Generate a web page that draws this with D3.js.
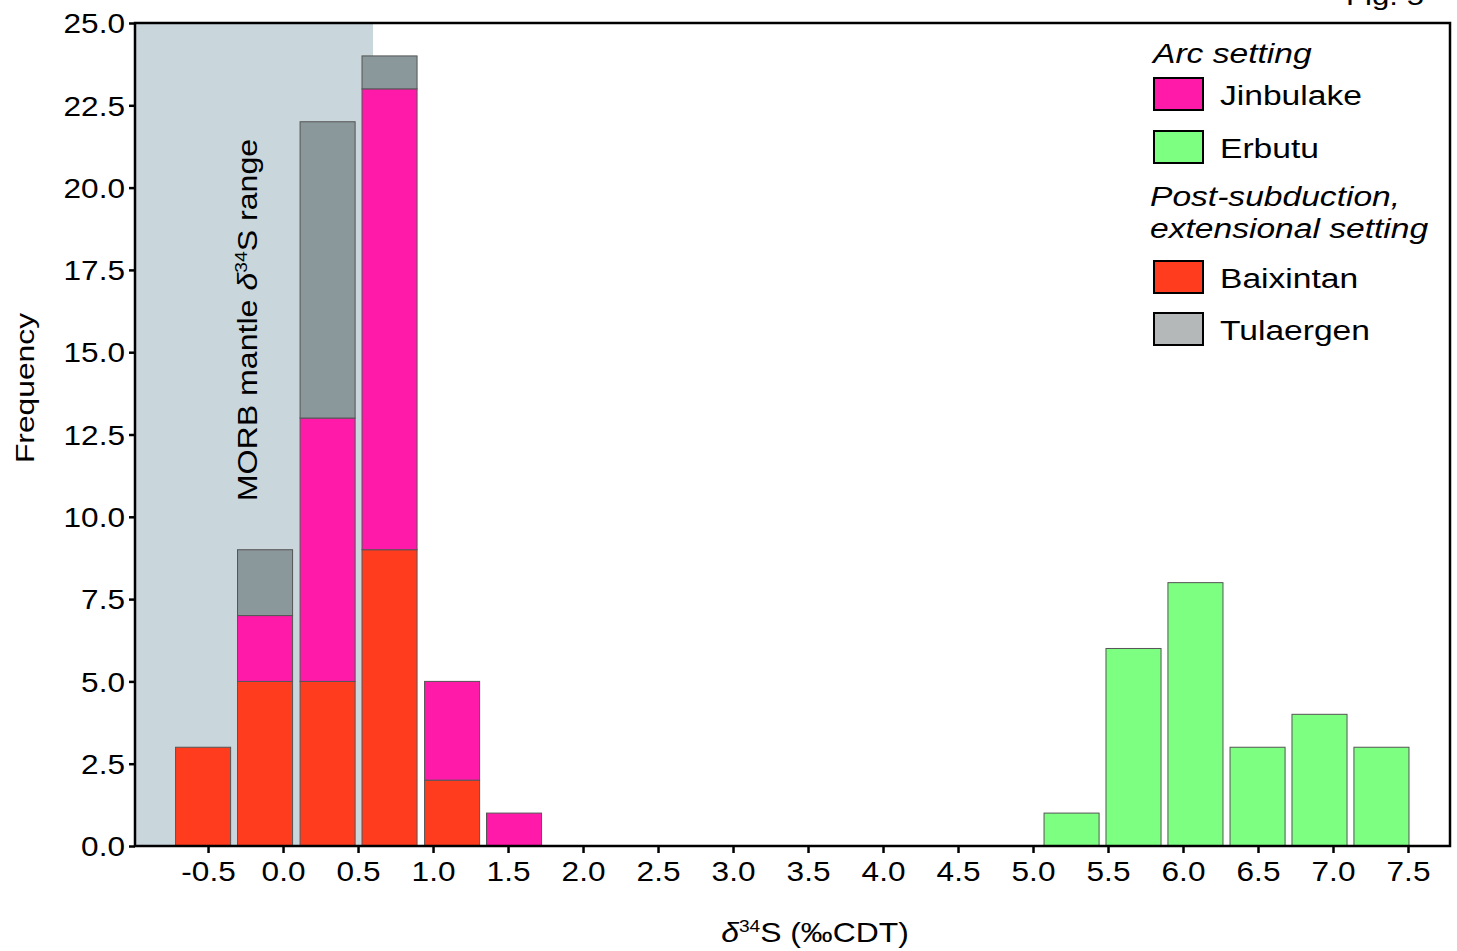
<!DOCTYPE html>
<html><head><meta charset="utf-8">
<script src="https://cdn.jsdelivr.net/npm/d3@7"></script>
<style>body{margin:0;background:#fff}svg{display:block}text{font-family:"Liberation Sans",Arial,sans-serif;fill:#000}</style>
</head><body>
<script>
// ---- data ----
const binCenters = [-0.533, -0.120, 0.297, 0.710, 1.127, 1.540, 5.257, 5.670, 6.083, 6.497, 6.910, 7.323];
const barWidth = 0.367;
const baixintan = [3, 5, 5, 9, 2, 0, 0, 0, 0, 0, 0, 0];
const jinbulake = [0, 2, 8, 14, 3, 1, 0, 0, 0, 0, 0, 0];
const tulaergen = [0, 2, 9, 1, 0, 0, 0, 0, 0, 0, 0, 0];
const erbutu    = [0, 0, 0, 0, 0, 0, 1, 6, 8, 3, 4, 3];
const xTicks = [-0.5,0,0.5,1,1.5,2,2.5,3,3.5,4,4.5,5,5.5,6,6.5,7,7.5];
const yTicks = [0,2.5,5,7.5,10,12.5,15,17.5,20,22.5,25];
const xDomain = [-0.987, 7.78];
const yDomain = [0, 25];
const morbRange = [-1.0, 0.6];
const keys = ["Baixintan","Jinbulake","Tulaergen","Erbutu"];
const colors = {Baixintan:"#ff3d1e", Jinbulake:"#ff1aa9", Tulaergen:"#8a979b", Erbutu:"#7dff82"};
const legendColors = {Baixintan:"#ff3d1e", Jinbulake:"#ff1aa9", Tulaergen:"#b4b8b8", Erbutu:"#7dff82"};

const W = 1457, H = 951;
const m = {l:135, r:1450, t:23, b:846};
const SX = 1.2;

const svg = d3.select("body").append("svg").attr("width", W).attr("height", H);
const x = d3.scaleLinear().domain(xDomain).range([m.l, m.r]);
const y = d3.scaleLinear().domain(yDomain).range([m.b, m.t]);

// MORB background
svg.append("rect")
  .attr("x", x(Math.max(morbRange[0], xDomain[0]))).attr("y", m.t)
  .attr("width", x(morbRange[1]) - x(Math.max(morbRange[0], xDomain[0])))
  .attr("height", m.b - m.t).attr("fill", "#c9d6dc");

// stacked bars
const rows = binCenters.map((c,i)=>({c, Baixintan:baixintan[i], Jinbulake:jinbulake[i], Tulaergen:tulaergen[i], Erbutu:erbutu[i]}));
const stack = d3.stack().keys(keys)(rows);
const gBars = svg.append("g");
stack.forEach(layer=>{
  gBars.selectAll(null).data(layer.filter(d=>d[1]-d[0]>0)).join("rect")
    .attr("x", d=>x(d.data.c - barWidth/2))
    .attr("width", d=>x(d.data.c + barWidth/2) - x(d.data.c - barWidth/2))
    .attr("y", d=>y(d[1])).attr("height", d=>y(d[0]) - y(d[1]))
    .attr("fill", colors[layer.key]).attr("stroke", "#555").attr("stroke-width", 1);
});

// axes
const fmt = v => d3.format(".1f")(v).replace("\u2212", "-");
const xAxis = svg.append("g").attr("transform", `translate(0,${m.b})`)
  .call(d3.axisBottom(x).tickValues(xTicks).tickSize(7).tickPadding(8).tickFormat(fmt));
const yAxis = svg.append("g").attr("transform", `translate(${m.l},0)`)
  .call(d3.axisLeft(y).tickValues(yTicks).tickSize(6).tickPadding(6).tickFormat(fmt));
[xAxis, yAxis].forEach(a=>{
  a.select(".domain").remove();
  a.selectAll(".tick line").attr("stroke", "#000").attr("stroke-width", 2.5);
  a.selectAll(".tick text").attr("font-size", 27).attr("font-family", "Liberation Sans, Arial, sans-serif").attr("fill","#000");
});
xAxis.selectAll(".tick text").each(function(){
  d3.select(this).attr("dy", null).attr("y", null)
   .attr("transform", `translate(0,35) scale(1.17,1)`);
});
yAxis.selectAll(".tick text").each(function(){
  d3.select(this).attr("x", null).attr("dy","0.36em")
   .attr("transform", `translate(-10,0) scale(1.17,1)`);
});

// frame
svg.append("rect").attr("x", m.l).attr("y", m.t).attr("width", m.r-m.l).attr("height", m.b-m.t)
  .attr("fill","none").attr("stroke","#000").attr("stroke-width", 2.5);

function label(x0, y0, rot, size, anchor, parts, sx){
  const t = svg.append("text").attr("font-size", size).attr("text-anchor", anchor)
    .attr("transform", `translate(${x0},${y0}) rotate(${rot}) scale(${sx||SX},1)`);
  parts.forEach(p=>{
    const s = t.append("tspan").text(p.t);
    if(p.i) s.attr("font-style","italic");
    if(p.sup) s.attr("font-size", size*0.6).attr("dy", -size*0.38);
    if(p.down) s.attr("dy", size*0.38);
  });
  return t;
}

// axis titles
label(34, 388, -90, 26.5, "middle", [{t:"Frequency"}]);
label(815, 942, 0, 27, "middle", [{t:"δ", i:true},{t:"34", sup:true},{t:"S (‰CDT)", down:true}], 1.18);
// MORB label
label(257, 320, -90, 27, "middle", [{t:"MORB mantle "},{t:"δ", i:true},{t:"34", sup:true},{t:"S range", down:true}], 1.19);
// Fig label
label(1385, 5, 0, 26, "middle", [{t:"Fig. 5"}]);

// legend
const lg = svg.append("g");
label(1153, 63, 0, 28, "start", [{t:"Arc setting", i:true}]);
label(1150, 206, 0, 28, "start", [{t:"Post-subduction,", i:true}]);
label(1150, 238, 0, 28, "start", [{t:"extensional setting", i:true}]);
const legendItems = [
  {k:"Jinbulake", y:78},
  {k:"Erbutu", y:131},
  {k:"Baixintan", y:261},
  {k:"Tulaergen", y:313}
];
legendItems.forEach(d=>{
  lg.append("rect").attr("x",1154).attr("y",d.y).attr("width",49).attr("height",32)
    .attr("fill", legendColors[d.k]).attr("stroke","#000").attr("stroke-width",2);
  label(1220, d.y+27, 0, 28, "start", [{t:d.k}]);
});
</script>
</body></html>
